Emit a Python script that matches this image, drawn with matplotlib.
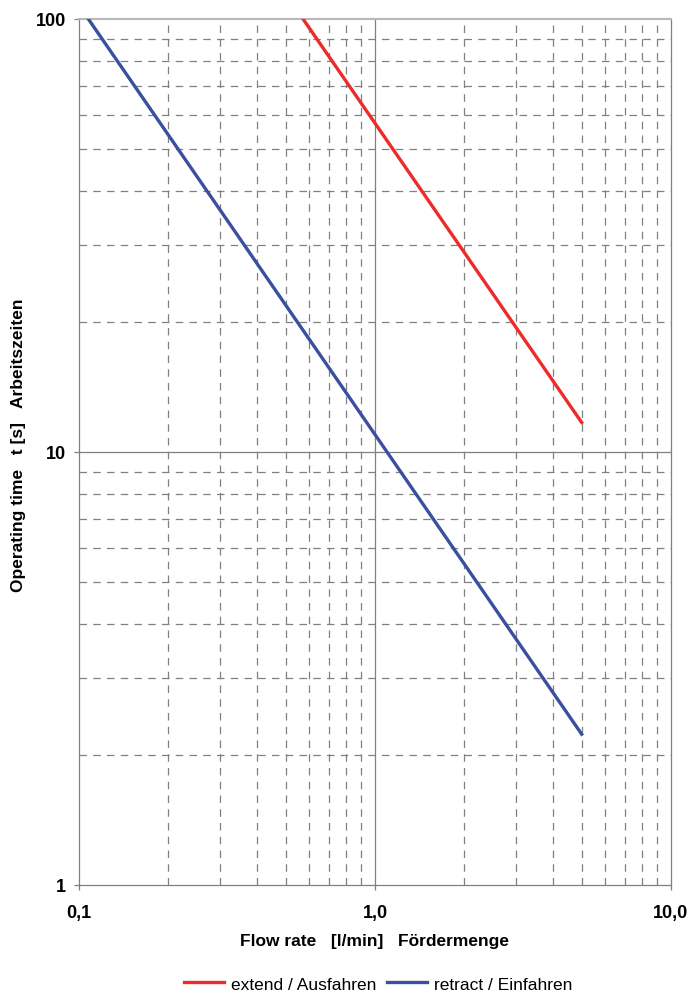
import matplotlib
matplotlib.use("Agg")
import matplotlib.pyplot as plt
from matplotlib.ticker import FixedLocator, NullFormatter, NullLocator

plt.rcParams['font.family'] = ['Liberation Sans', 'DejaVu Sans']

# Data
extend_q = [0.571, 5.0]
extend_t = [100.0, 11.7]
retract_q = [0.1073, 5.0]
retract_t = [100.0, 2.23]

x_ticks = [0.1, 1.0, 10.0]
x_ticklabels = ["0,1", "1,0", "10,0"]
y_ticks = [1, 10, 100]
y_ticklabels = ["1", "10", "100"]

fig = plt.figure(figsize=(6.91, 9.95), dpi=100)
W, H = 691, 995
left, right, top, bottom = 79.3, 670.7, 20, 886
ax = fig.add_axes([left / W, 1 - bottom / H, (right - left) / W, (bottom - top) / H])

ax.set_xscale('log')
ax.set_yscale('log')
ax.set_xlim(0.1, 10)
ax.set_ylim(1, 100)

# grid
minor_x = [m * 10.0 ** e for e in (-1, 0) for m in range(2, 10)]
minor_y = [m * 10.0 ** e for e in (0, 1) for m in range(2, 10)]
for v in minor_x:
    ax.axvline(v, color='#808080', lw=0.9, ls=(0, (6, 5)), zorder=1)
for v in minor_y:
    ax.axhline(v, color='#808080', lw=0.9, ls=(0, (6, 5)), zorder=1)
ax.axvline(1.0, color='#808080', lw=0.9, zorder=1)
ax.axhline(10.0, color='#808080', lw=0.9, zorder=1)

ax.plot(extend_q, extend_t, color='#ee2b2b', lw=2.4, label='extend / Ausfahren', zorder=3)
ax.plot(retract_q, retract_t, color='#3a4fa0', lw=2.4, label='retract / Einfahren', zorder=3)

ax.xaxis.set_major_locator(FixedLocator(x_ticks))
ax.set_xticklabels(x_ticklabels)
ax.yaxis.set_major_locator(FixedLocator(y_ticks))
ax.set_yticklabels(y_ticklabels)
ax.xaxis.set_minor_locator(NullLocator())
ax.yaxis.set_minor_locator(NullLocator())
ax.xaxis.set_minor_formatter(NullFormatter())
ax.yaxis.set_minor_formatter(NullFormatter())
ax.tick_params(axis='both', which='major', direction='out', length=3.6, width=0.9,
               color='#808080', labelsize=13)
ax.tick_params(axis='x', pad=10)
ax.tick_params(axis='y', pad=6)
for lab in ax.get_xticklabels() + ax.get_yticklabels():
    lab.set_fontweight('bold')

for side in ('left', 'bottom', 'right'):
    ax.spines[side].set_color('#808080')
    ax.spines[side].set_linewidth(0.9)
ax.spines['top'].set_color('#b8b8b8')
ax.spines['top'].set_linewidth(1.5)

fig.text(375 / W, 1 - 942 / H, 'Flow rate   [l/min]   Fördermenge', fontsize=12.5,
         fontweight='bold', ha='center', va='center')
fig.text(18.5 / W, 1 - 445 / H, 'Operating time   t [s]   Arbeitszeiten', fontsize=12.5,
         fontweight='bold', ha='center', va='center', rotation=90)

fig.legend(loc='center', bbox_to_anchor=(378 / W, 1 - 985 / H), ncol=2, frameon=False,
           fontsize=12.5, handlelength=2.3, columnspacing=0.6, handletextpad=0.4)

fig.savefig('out.png', dpi=100)
